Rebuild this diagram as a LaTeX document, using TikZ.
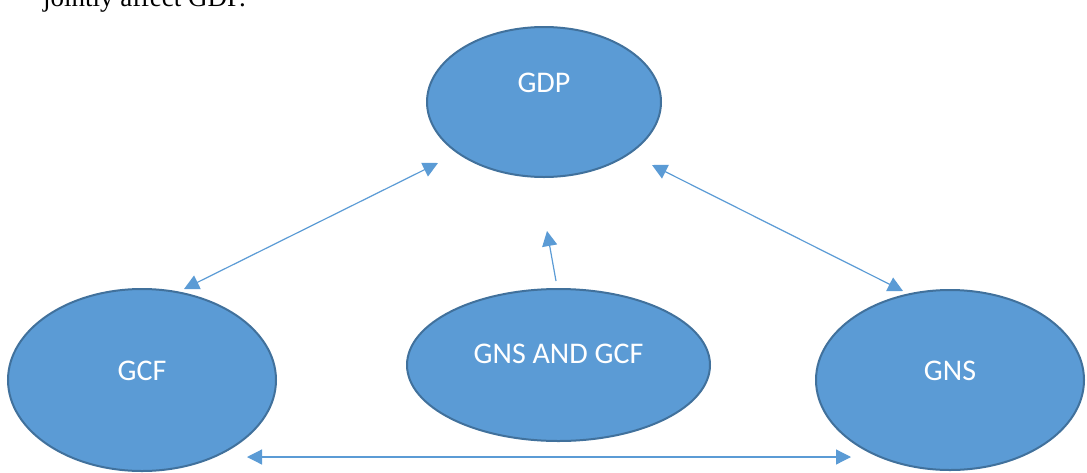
\documentclass[tikz,border=0pt]{standalone}
\usepackage{fontspec}
\setmainfont{Carlito}
\newfontfamily\serifdoc{Liberation Serif}
\usetikzlibrary{arrows.meta,shapes.geometric}
\definecolor{fillblue}{HTML}{5B9BD5}
\definecolor{edgeblue}{HTML}{41719C}
\begin{document}
\begin{tikzpicture}[x=1pt,y=-1pt,
  bubble/.style={ellipse, draw=edgeblue, line width=2pt, fill=fillblue, inner sep=0pt},
  lbl/.style={text=white, font=\fontsize{30}{32}\selectfont, inner sep=0pt, anchor=center},
  link/.style={draw=fillblue, line width=1.2pt, {Triangle[length=15pt,width=15pt]}-{Triangle[length=15pt,width=15pt]}},
  onelink/.style={draw=fillblue, line width=1.2pt, -{Triangle[length=15pt,width=15pt]}}]
\useasboundingbox (0,0) rectangle (1087,472);
\clip (0,0) rectangle (1087,472);
\node[anchor=base west, inner sep=0pt, font=\serifdoc\fontsize{27}{30}\selectfont] (intro) at (43,6) {jointly affect GDP.};
\node[bubble, minimum width=234pt, minimum height=150pt] (gdp) at (544,102) {};
\node[bubble, minimum width=268pt, minimum height=182pt] (gcf) at (142,380) {};
\node[bubble, minimum width=303pt, minimum height=152pt] (both) at (558.5,365) {};
\node[bubble, minimum width=268pt, minimum height=180pt] (gns) at (950,380) {};
\node[lbl] (gdpt) at (544,83) {GDP};
\node[lbl] (gcft) at (142,371) {GCF};
\node[lbl] (botht) at (558.5,354) {GNS AND GCF};
\node[lbl] (gnst) at (950,371) {GNS};
\coordinate (a1) at (184,289);
\coordinate (a2) at (438,163);
\coordinate (b1) at (652,165);
\coordinate (b2) at (903,291);
\coordinate (c1) at (556,281);
\coordinate (c2) at (547,231);
\coordinate (d1) at (247,457);
\coordinate (d2) at (851,457);
\draw[link] (a1) -- (a2);
\draw[link] (b1) -- (b2);
\draw[onelink] (c1) -- (c2);
\draw[link] (d1) -- (d2);
\end{tikzpicture}
\end{document}
